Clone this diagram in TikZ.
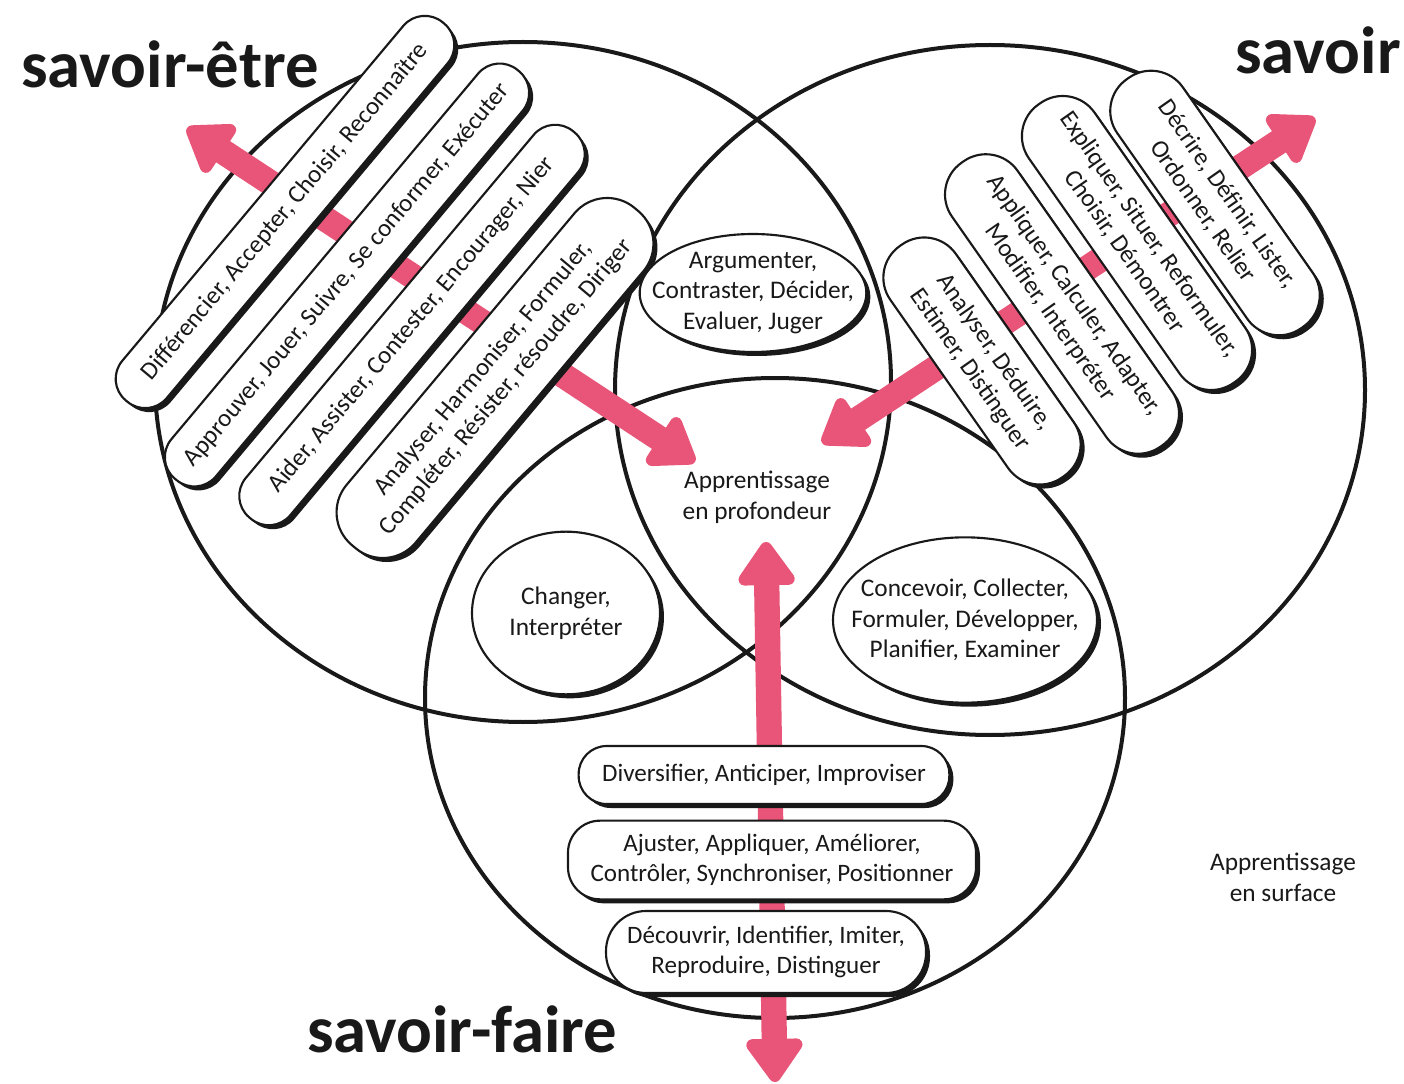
\documentclass[tikz,border=0pt]{standalone}
\usepackage{fontspec}
\setmainfont{Carlito}
\usetikzlibrary{shapes.misc,shapes.geometric,arrows.meta,shadows}
\definecolor{pk}{RGB}{233,85,120}
\definecolor{ink}{RGB}{25,25,25}
\begin{document}
\begin{tikzpicture}[x=0.75pt,y=-0.75pt,
  bigc/.style={ellipse, draw=ink, line width=3pt, inner sep=0pt},
  pkarrow/.style={draw=pk, line width=19pt,
    {Triangle[width=48pt,length=36pt,round]}-{Triangle[width=48pt,length=36pt,round]}},
  shad/.style={drop shadow={shadow xshift=3pt, shadow yshift=-3pt, fill=ink, opacity=1}},
  pill/.style={rectangle, rounded corners=#1, draw=ink, line width=1.6pt, fill=white, shad,
    inner sep=1pt, align=center, font=\fontsize{18.8}{22.5}\selectfont, text=ink},
  blob/.style={ellipse, draw=ink, line width=1.6pt, fill=white, shad, inner sep=0pt},
  note/.style={align=center, font=\fontsize{19}{23}\selectfont, text=ink},
  title/.style={font=\fontsize{50}{54}\selectfont\bfseries, text=ink, anchor=base},
]
\fill[white] (0,0) rectangle (1404,1084);
\useasboundingbox (0,0) rectangle (1404,1084);

% big circles
\node[bigc, minimum width=552pt, minimum height=510pt] (cEtre) at (523,382) {};
\node[bigc, minimum width=562.5pt, minimum height=517.5pt] (cSavoir) at (990,390) {};
\node[bigc, minimum width=525pt, minimum height=480pt] (cFaire) at (775,698) {};

% arrows
\coordinate (la1) at (187,128);
\coordinate (la2) at (695,462);
\coordinate (ra1) at (1315,118);
\coordinate (ra2) at (822,443);
\coordinate (va1) at (766,542);
\coordinate (va2) at (775,1082);
\draw[pkarrow] (la1) -- (la2);
\draw[pkarrow] (ra1) -- (ra2);
\draw[pkarrow] (va1) -- (va2);

% left pills (savoir-etre)
\node[pill=21pt, rotate=50, minimum width=370pt, minimum height=43.5pt] (lp1) at (285,212)
  {Différencier, Accepter, Choisir, Reconnaître};
\node[pill=21pt, rotate=50, minimum width=400pt, minimum height=43.5pt] (lp2) at (347,275)
  {Approuver, Jouer, Suivre, Se conformer, Exécuter};
\node[pill=21pt, rotate=50, minimum width=378pt, minimum height=43.5pt] (lp3) at (412,325)
  {Aider, Assister, Contester, Encourager, Nier};
\node[pill=32pt, rotate=50, minimum width=330pt, minimum height=67.5pt] (lp4) at (495,378)
  {Analyser, Harmoniser, Formuler,\\Compléter, Résister, résoudre, Diriger};

% right pills (savoir)
\node[pill=29pt, rotate=-55, minimum width=228pt, minimum height=60pt] (rp1) at (1215,203)
  {Décrire, Définir, Lister,\\Ordonner, Relier};
\node[pill=29pt, rotate=-55, minimum width=255pt, minimum height=60pt] (rp2) at (1137,243)
  {Expliquer, Situer, Reformuler,\\Choisir, Démontrer};
\node[pill=29pt, rotate=-55, minimum width=260pt, minimum height=60pt] (rp3) at (1062,304)
  {Appliquer, Calculer, Adapter,\\Modifier, Interpréter};
\node[pill=29pt, rotate=-55, minimum width=212pt, minimum height=60pt] (rp4) at (982,361)
  {Analyser, Déduire,\\Estimer, Distinguer};

% bottom pills (savoir-faire)
\node[pill=21pt, minimum width=278pt, minimum height=43.5pt] (bp1) at (764,775)
  {Diversifier, Anticiper, Improviser};
\node[pill=24pt, minimum width=306pt, minimum height=59pt] (bp2) at (772,860)
  {Ajuster, Appliquer, Améliorer,\\Contrôler, Synchroniser, Positionner};
\node[pill=30pt, minimum width=240pt, minimum height=61.5pt] (bp3) at (766,952)
  {Découvrir, Identifier, Imiter,\\Reproduire, Distinguer};

% blobs
\node[blob, minimum width=170pt, minimum height=88.5pt] (e1) at (753,293) {};
\node[note] (e1t) at (e1) {Argumenter,\\Contraster, Décider,\\Evaluer, Juger};
\node[blob, minimum width=141pt, minimum height=122pt] (e2) at (566,613) {};
\node[note] (e2t) at (e2) {Changer,\\Interpréter};
\node[blob, minimum width=198pt, minimum height=124pt] (e3) at (965,620) {};
\node[note] (e3t) at (e3) {Concevoir, Collecter,\\Formuler, Développer,\\Planifier, Examiner};

% notes and titles
\node[note] (deep) at (757,497) {Apprentissage\\en profondeur};
\node[note] (surf) at (1283,877) {Apprentissage\\en surface};
\node[title] (tEtre) at (170,88) {savoir-être};
\node[title] (tSavoir) at (1318,74) {savoir};
\node[title] (tFaire) at (462,1052) {savoir-faire};
\end{tikzpicture}
\end{document}
